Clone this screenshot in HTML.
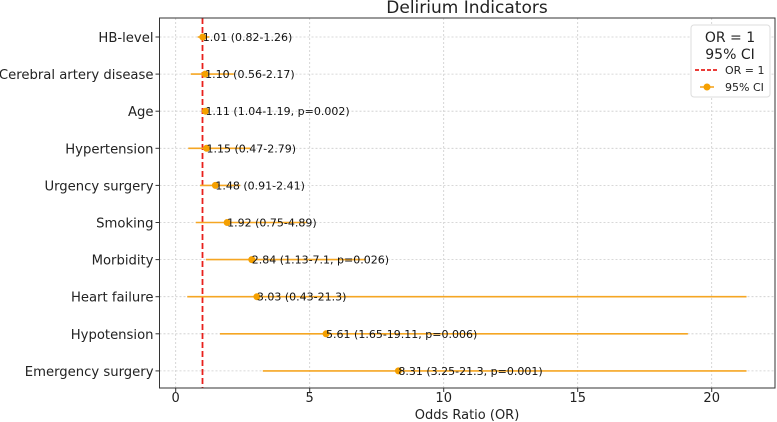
<!DOCTYPE html>
<html><head><meta charset="utf-8"><style>
body{margin:0;background:#fff;}
svg{display:block;font-family:"DejaVu Sans","Liberation Sans",sans-serif;}
</style></head><body>
<svg id="chart" width="777" height="422"></svg>
<script>
const labels=["HB-level","Cerebral artery disease","Age","Hypertension","Urgency surgery","Smoking","Morbidity","Heart failure","Hypotension","Emergency surgery"];
const ors=[1.01,1.10,1.11,1.15,1.48,1.92,2.84,3.03,5.61,8.31];
const lows=[0.82,0.56,1.04,0.47,0.91,0.75,1.13,0.43,1.65,3.25];
const highs=[1.26,2.17,1.19,2.79,2.41,4.89,7.1,21.3,19.11,21.3];
const annots=["1.01 (0.82-1.26)","1.10 (0.56-2.17)","1.11 (1.04-1.19, p=0.002)","1.15 (0.47-2.79)","1.48 (0.91-2.41)","1.92 (0.75-4.89)","2.84 (1.13-7.1, p=0.026)","3.03 (0.43-21.3)","5.61 (1.65-19.11, p=0.006)","8.31 (3.25-21.3, p=0.001)"];
const xticks=[0,5,10,15,20];
const NS="http://www.w3.org/2000/svg";
const svg=document.getElementById('chart');
const L=159.5,R=775,T=18,B=388;
const xs=v=>175.7+v*26.8;
const ys=i=>37+i*37.1;
function mk(tag,attrs,parent){const e=document.createElementNS(NS,tag);for(const k in attrs)e.setAttribute(k,attrs[k]);(parent||svg).appendChild(e);return e;}
xticks.forEach(t=>{const g=mk('line',{x1:xs(t),x2:xs(t),y1:T,y2:B,stroke:'#ccc','stroke-dasharray':'2,2','stroke-width':0.8});

});
labels.forEach((l,i)=>{const g=mk('line',{x1:L,x2:R,y1:ys(i),y2:ys(i),stroke:'#ccc','stroke-dasharray':'2,2','stroke-width':0.8});

});
const rl=mk('line',{x1:xs(1),x2:xs(1),y1:T,y2:B,stroke:'#e8201c','stroke-width':1.8,'stroke-dasharray':'6,3'});


labels.forEach((l,i)=>{
 const y=ys(i);
 const ci=mk('line',{x1:xs(lows[i]),x2:xs(highs[i]),y1:y,y2:y,stroke:'#f5a623','stroke-width':1.6});
 
 
 const p=mk('circle',{cx:xs(ors[i]),cy:y,r:3.5,fill:'#f5a000'});
 
 
 const a=mk('text',{x:xs(ors[i]),y:y+4,'font-size':11,fill:'#111'});a.textContent=annots[i];
 
 
 const yl=mk('line',{x1:L-4,x2:L,y1:y,y2:y,stroke:'#333'});
 
 
 const t=mk('text',{x:L-6,y:y+5,'font-size':13.2,'text-anchor':'end',fill:'#222'});t.textContent=l;
 
 
});
const sp=mk('rect',{x:L,y:T,width:R-L,height:B-T,fill:'none',stroke:'#333','stroke-width':1});


xticks.forEach(t=>{
 const tk=mk('line',{x1:xs(t),x2:xs(t),y1:B,y2:B+4,stroke:'#333'});
 
 
 const tl=mk('text',{x:xs(t),y:B+14,'font-size':13,'text-anchor':'middle',fill:'#222'});tl.textContent=t;
 
 
});
const xt=mk('text',{x:467,y:419,'font-size':13,'text-anchor':'middle',fill:'#222'});xt.textContent='Odds Ratio (OR)';


const ti=mk('text',{x:467,y:13,'font-size':17,'text-anchor':'middle',fill:'#222'});ti.textContent='Delirium Indicators';


const lg=mk('g',{});


mk('rect',{x:691,y:25,width:79,height:72,rx:3,fill:'#fff',stroke:'#ddd'},lg);
const l1=mk('text',{x:730,y:42,'font-size':14,'text-anchor':'middle',fill:'#222'},lg);l1.textContent='OR = 1';
const l2=mk('text',{x:730,y:59,'font-size':14,'text-anchor':'middle',fill:'#222'},lg);l2.textContent='95% CI';
mk('line',{x1:695,x2:717,y1:70,y2:70,stroke:'#e8201c','stroke-width':1.8,'stroke-dasharray':'4,2'},lg);
const l3=mk('text',{x:725,y:74,'font-size':11,fill:'#222'},lg);l3.textContent='OR = 1';


mk('line',{x1:700,x2:714,y1:87,y2:87,stroke:'#f5a623','stroke-width':1.6},lg);
mk('circle',{cx:707,cy:87,r:3.5,fill:'#f5a000'},lg);
const l4=mk('text',{x:725,y:91,'font-size':11,fill:'#222'},lg);l4.textContent='95% CI';


</script>
</body></html>
